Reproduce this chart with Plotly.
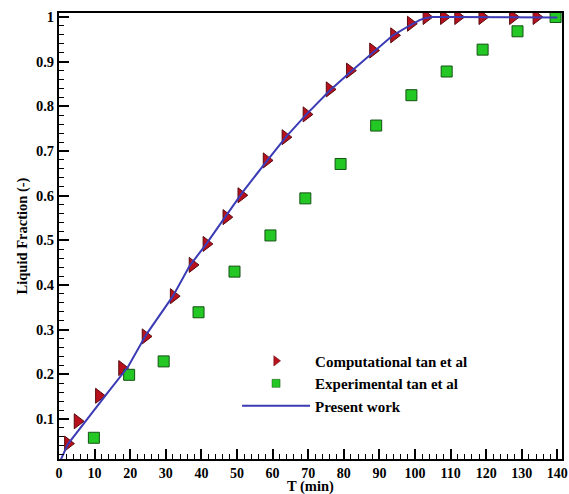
import plotly.graph_objects as go

# Computational (tan et al)
comp_t = [2.5, 5.2, 11.2, 17.7, 24.3, 32.2, 37.5, 41.4, 47.0, 51.2, 58.3, 63.6, 69.5, 76.0,
          81.7, 88.2, 94.1, 98.8, 103.2, 108.1, 112.1, 118.9, 127.5, 134.1]
comp_f = [0.045, 0.095, 0.152, 0.214, 0.285, 0.375, 0.445, 0.492, 0.552, 0.601, 0.679, 0.731,
          0.782, 0.838, 0.880, 0.925, 0.959, 0.985, 1.0, 1.0, 1.0, 1.0, 1.0, 1.0]

# Experimental (tan et al)
exp_t = [9.8, 19.7, 29.4, 39.2, 49.3, 59.4, 69.2, 79.1, 89.1, 99.0, 108.9, 119.0, 128.8, 139.5]
exp_f = [0.058, 0.199, 0.229, 0.339, 0.430, 0.511, 0.594, 0.671, 0.757, 0.825, 0.878, 0.927,
         0.968, 1.0]

# Present work
pw_t = [0.4, 2.5, 13.3, 19.4, 24.5, 32.0, 36.7, 41.4, 47.0, 51.7, 58.3, 63.9, 69.5, 76.0,
        81.7, 88.3, 93.8, 98.5, 101.3, 103.0, 105.0, 110.0, 120.0, 130.0, 140.0]
pw_f = [0.007, 0.044, 0.155, 0.217, 0.289, 0.375, 0.443, 0.492, 0.556, 0.609, 0.677, 0.733,
        0.782, 0.835, 0.876, 0.921, 0.959, 0.981, 0.993, 0.998, 1.0, 1.0, 1.0, 1.0, 0.999]

x_ticks = list(range(0, 141, 10))
y_ticks = [0.1, 0.2, 0.3, 0.4, 0.5, 0.6, 0.7, 0.8, 0.9, 1.0]
y_labels = ["0.1", "0.2", "0.3", "0.4", "0.5", "0.6", "0.7", "0.8", "0.9", "1"]

FONT = "Liberation Serif"
RED = "#b8101c"
RED_EDGE = "#5a0a0e"
GREEN = "#24c824"
GREEN_EDGE = "#145214"
BLUE = "#3b3bb5"

fig = go.Figure()
fig.add_trace(go.Scatter(
    x=comp_t, y=comp_f, mode="markers", name="Computational tan et al", showlegend=False,
    marker=dict(symbol="triangle-right", size=13, color=RED, line=dict(color=RED_EDGE, width=1)),
))
fig.add_trace(go.Scatter(
    x=exp_t, y=exp_f, mode="markers", name="Experimental tan et al", showlegend=False,
    marker=dict(symbol="square", size=11, color=GREEN, line=dict(color=GREEN_EDGE, width=1)),
))
fig.add_trace(go.Scatter(
    x=pw_t, y=pw_f, mode="lines", name="Present work", showlegend=False,
    line=dict(color=BLUE, width=2),
))
# legend entries (smaller symbols, as in the reference legend)
fig.add_trace(go.Scatter(
    x=[None], y=[None], mode="markers", name="Computational tan et al",
    marker=dict(symbol="triangle-right", size=9, color=RED, line=dict(color=RED_EDGE, width=0.5)),
))
fig.add_trace(go.Scatter(
    x=[None], y=[None], mode="markers", name="Experimental tan et al",
    marker=dict(symbol="square", size=8, color=GREEN, line=dict(color=GREEN_EDGE, width=0.5)),
))
fig.add_trace(go.Scatter(
    x=[None], y=[None], mode="lines", name="Present work",
    line=dict(color=BLUE, width=2),
))

fig.update_layout(
    width=569, height=494,
    margin=dict(l=59, r=7, t=13, b=35),
    paper_bgcolor="white", plot_bgcolor="white",
    font=dict(family=FONT, size=14, color="black", weight="bold"),
    showlegend=True,
    legend=dict(x=0.354, y=0.2565, xanchor="left", yanchor="top",
                bgcolor="rgba(0,0,0,0)", itemwidth=68,
                font=dict(family=FONT, size=15, color="black", weight="bold"),
                tracegroupgap=0),
    annotations=[dict(text="T (min)", xref="paper", yref="paper", x=0.5, y=-0.0625,
                      xanchor="center", yanchor="middle", showarrow=False,
                      font=dict(family=FONT, size=14.5, weight="bold", color="black"))],
)
fig.update_xaxes(
    automargin=False,
    range=[0, 141.3], tickvals=x_ticks,
    ticks="inside", ticklen=10, tickwidth=2, tickcolor="black",
    minor=dict(dtick=2, ticks="inside", ticklen=5, tickwidth=1, tickcolor="black"),
    showline=True, linewidth=2, linecolor="black", mirror=True,
    showgrid=False, zeroline=False,
    tickfont=dict(family=FONT, size=14, weight="bold"),
)
fig.update_yaxes(
    automargin=False,
    range=[0.0105, 1.009], tickvals=y_ticks, ticktext=y_labels,
    ticks="inside", ticklen=10, tickwidth=2, tickcolor="black",
    minor=dict(dtick=0.02, tick0=0, ticks="inside", ticklen=5, tickwidth=1, tickcolor="black"),
    showline=True, linewidth=2, linecolor="black", mirror=True,
    showgrid=False, zeroline=False,
    tickfont=dict(family=FONT, size=14.5, weight="bold"),
    title=dict(text="Liquid Fraction (-)", font=dict(family=FONT, size=14.5, weight="bold"), standoff=5),
)

fig.write_html("out.html", config={"displayModeBar": False},
               post_script="document.body.style.margin='0';")
